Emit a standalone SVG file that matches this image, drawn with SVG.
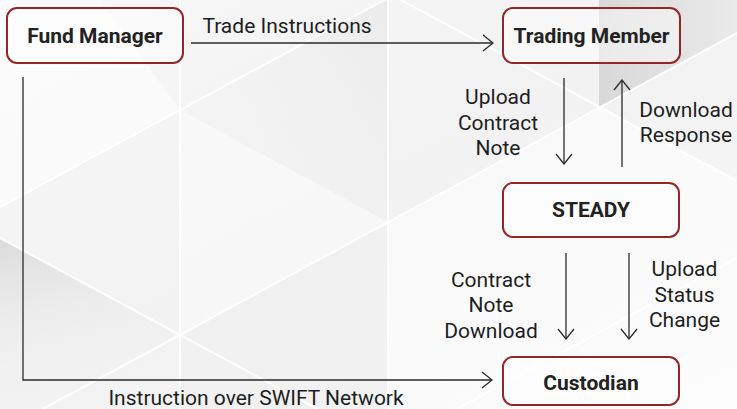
<svg xmlns="http://www.w3.org/2000/svg" width="737" height="409" viewBox="0 0 737 409">
<defs>
<linearGradient id="bg" x1="0" y1="0" x2="1" y2="1">
<stop offset="0" stop-color="#f7f7f7"/>
<stop offset="0.5" stop-color="#f2f2f2"/>
<stop offset="1" stop-color="#f8f8f8"/>
</linearGradient>
<linearGradient id="dk" x1="0" y1="0" x2="1" y2="0">
<stop offset="0" stop-color="#d8d8d8"/>
<stop offset="1" stop-color="#eaeaea"/>
</linearGradient>
<linearGradient id="sh" x1="0" y1="0" x2="0.3" y2="1">
<stop offset="0" stop-color="#d6d6d6"/>
<stop offset="1" stop-color="#f2f2f2" stop-opacity="0"/>
</linearGradient>
<linearGradient id="sh2" x1="1" y1="0" x2="0" y2="1">
<stop offset="0" stop-color="#e2e2e2"/>
<stop offset="1" stop-color="#f4f4f4" stop-opacity="0"/>
</linearGradient>
<marker id="ah" viewBox="0 0 12 18" refX="11" refY="9" markerWidth="12" markerHeight="18" markerUnits="userSpaceOnUse" orient="auto">
<path d="M1,1 L11,9 L1,17" fill="none" stroke="#2a2a2a" stroke-width="1.3"/>
</marker>
<style>
.box{fill:#ffffff;fill-opacity:0.45;stroke:#962626;stroke-width:2}
.nl{font-family:Roboto,"Liberation Sans",sans-serif;font-weight:700;font-size:21px;fill:#222;text-anchor:middle}
.el{font-family:Roboto,"Liberation Sans",sans-serif;font-weight:400;font-size:21px;fill:#1e1e1e;text-anchor:middle}
.cn{fill:none;stroke:#2a2a2a;stroke-width:1.3;marker-end:url(#ah)}
.bgp{fill:#ffffff}
.bgl{stroke:#ffffff;stroke-width:2;fill:none;opacity:0.9}
</style>
</defs>
<g id="background">
<rect x="0" y="0" width="737" height="409" fill="url(#bg)"/>
<polygon class="bgp" points="0,0 100,0 180,110 0,207" opacity="0.5"/>
<polygon class="bgp" points="180,110 388,222 180,335" opacity="0.4"/>
<polygon points="0,238 180,335 120,409 0,409" fill="url(#sh)" opacity="0.85"/>
<polygon points="180,335 388,222 388,409 180,409" fill="#eeeeee" opacity="0.4"/>
<polygon points="599,0 737,0 737,33 599,107" fill="url(#dk)"/>
<polygon points="388,222 600,107 737,181 737,409 388,409" class="bgp" opacity="0.5"/>
<polygon points="180,110 388,-2 388,222" fill="url(#sh2)" opacity="0.5"/>
<path class="bgl" d="M180,0 L180,409 M388,0 L388,409 M-20,218 L388,-2 M-20,227 L388,447 M0,238 L180,335 L737,33 M0,432 L180,335 M388,-7 L737,181 M388,446 L737,258"/>
</g>
<g id="connectors">
<path class="cn" d="M191,43 L493,43"/>
<path class="cn" d="M564,78 L564,164"/>
<path class="cn" d="M622,167 L622,80"/>
<path class="cn" d="M566,253 L566,339"/>
<path class="cn" d="M629,253 L629,339"/>
<path class="cn" d="M23,77 L23,380 L492,380"/>
</g>
<g id="labels">
<text class="el" x="287" y="33">Trade Instructions</text>
<text class="el" x="498"><tspan x="498" y="104">Upload</tspan><tspan x="498" y="130">Contract</tspan><tspan x="498" y="155">Note</tspan></text>
<text class="el" x="686"><tspan x="686" y="117">Download</tspan><tspan x="686" y="142">Response</tspan></text>
<text class="el" x="491"><tspan x="491" y="287">Contract</tspan><tspan x="491" y="312">Note</tspan><tspan x="491" y="338">Download</tspan></text>
<text class="el" x="684.5"><tspan x="684.5" y="276">Upload</tspan><tspan x="684.5" y="302">Status</tspan><tspan x="684.5" y="327">Change</tspan></text>
<text class="el" x="256" y="405">Instruction over SWIFT Network</text>
</g>
<g id="fund-manager">
<rect class="box" x="7" y="8" width="176" height="55" rx="10"/>
<text class="nl" x="95" y="43">Fund Manager</text>
</g>
<g id="trading-member">
<rect class="box" x="503" y="8" width="177" height="55" rx="10"/>
<text class="nl" x="591.5" y="43">Trading Member</text>
</g>
<g id="steady">
<rect class="box" x="503" y="183" width="176" height="54" rx="10"/>
<text class="nl" x="591" y="217">STEADY</text>
</g>
<g id="custodian">
<rect class="box" x="503" y="357" width="176" height="48" rx="10"/>
<text class="nl" x="591" y="390">Custodian</text>
</g>
</svg>
